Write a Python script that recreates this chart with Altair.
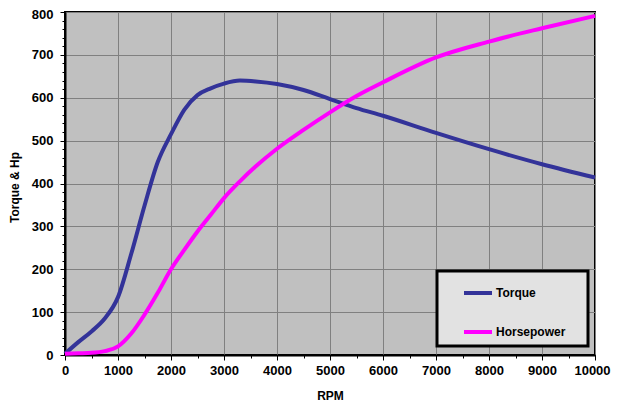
import altair as alt
import pandas as pd

rpm = [0, 250, 500, 750, 1000, 1250, 1500, 1750, 2000, 2250, 2500, 2750, 3000,
       3300, 3600, 4000, 4500, 5000, 5500, 6000, 7000, 8000, 9000, 10000]
torque = [3, 30, 55, 85, 135, 236, 348, 450, 515, 572, 606, 622, 633,
          640, 638, 632, 618, 597, 576, 558, 518, 480, 445, 414]
horsepower = [3, 4, 5, 9, 20, 50, 94, 145, 200, 245, 288, 327, 366,
              405, 440, 481, 525, 566, 604, 636, 694, 731, 762, 791]

series = ["Torque", "Horsepower"]
colors = ["#333399", "#FF00FF"]
x_major = list(range(0, 10001, 1000))
x_minor = list(range(0, 10001, 500))
y_major = list(range(0, 801, 100))
y_minor = list(range(0, 801, 20))

rows = []
for i, r in enumerate(rpm):
    rows.append({"RPM": r, "Series": "Torque", "Value": torque[i]})
    rows.append({"RPM": r, "Series": "Horsepower", "Value": horsepower[i]})
df = pd.DataFrame(rows)

FONT = "Liberation Sans"

base = alt.Chart(df)

main = base.mark_line(strokeWidth=4, interpolate="monotone").encode(
    x=alt.X("RPM:Q",
            scale=alt.Scale(domain=[0, 10000], nice=False),
            axis=alt.Axis(values=x_major, orient="bottom", title="RPM", format="d",
                          titleY=40, titleBaseline="middle", labelOverlap=False,
                          labelFlush=False,
                          labelOffset={"condition": {"test": "datum.value == 10000", "value": -3},
                                       "value": 0},
                          tickSize=5, labelPadding=4, grid=True)),
    y=alt.Y("Value:Q",
            scale=alt.Scale(domain=[0, 800], nice=False),
            axis=alt.Axis(values=y_major, orient="left", title="Torque & Hp",
                          titleX=-51, titleY=175, titleBaseline="middle", labelOverlap=False,
                          labelFlush=False,
                          labelOffset={"condition": {"test": "datum.value == 800", "value": 2},
                                       "value": 0},
                          tickSize=5, labelPadding=7, grid=True)),
    color=alt.Color("Series:N",
                    scale=alt.Scale(domain=series, range=colors),
                    legend=alt.Legend(title=" ", titleOrient="right",
                                      titlePadding=17, titleFontSize=12,
                                      orient="none", legendX=372, legendY=259,
                                      symbolType="stroke", symbolSize=784,
                                      symbolStrokeWidth=4, symbolOffset=19,
                                      labelOffset=2, rowPadding=15,
                                      padding=6,
                                      fillColor="#e2e2e2", strokeColor="#000000",
                                      labelFont=FONT, labelFontSize=12,
                                      labelFontWeight="bold", labelColor="#000000")),
)

minor = base.mark_line(opacity=0).encode(
    x=alt.X("RPM:Q",
            scale=alt.Scale(domain=[0, 10000], nice=False),
            axis=alt.Axis(values=x_minor, orient="bottom", title=None,
                          labels=False, grid=False, domain=False, tickSize=3)),
    y=alt.Y("Value:Q",
            scale=alt.Scale(domain=[0, 800], nice=False),
            axis=alt.Axis(values=y_minor, orient="left", title=None,
                          labels=False, grid=False, domain=False, tickSize=3)),
    detail="Series:N",
)

chart = alt.layer(main, minor).resolve_axis(
    x="independent", y="independent"
).properties(
    width=530, height=343,
    autosize=alt.AutoSizeParams(type="none"),
    padding={"left": 57, "top": 4, "right": 16, "bottom": 47},
    background="#FFFFFF",
).configure_view(
    fill="#C0C0C0", stroke="#000000", strokeWidth=2,
).configure_legend(
    strokeWidth=3,
).configure_axis(
    labelFont=FONT, labelFontSize=13, labelFontWeight="bold", labelColor="#000000",
    titleFont=FONT, titleFontSize=12, titleFontWeight="bold", titleColor="#000000",
    domainColor="#000000", domainWidth=2,
    tickColor="#000000", tickWidth=1,
    gridColor="#808080", gridWidth=1, gridOpacity=1,
)

chart.save("out.html", embed_options={"renderer": "svg", "actions": False})
